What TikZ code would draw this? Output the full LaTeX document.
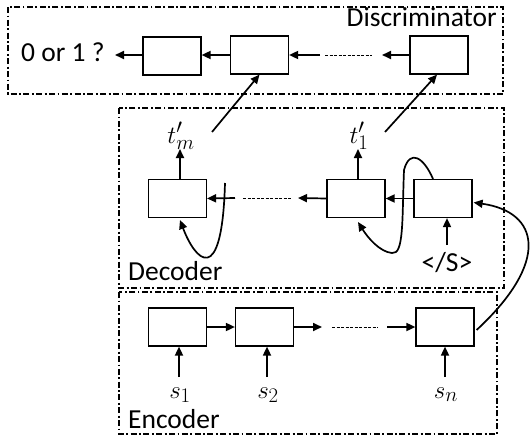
\documentclass[tikz,border=0pt]{standalone}
\usepackage{fontspec}
\setmainfont{Carlito}
\usetikzlibrary{arrows.meta,calc}
\begin{document}
\begin{tikzpicture}[x=1pt,y=-1pt,
  box/.style={draw,line width=1.2pt,minimum width=58pt,minimum height=38pt,inner sep=0pt},
  cont/.style={draw,line width=1.8pt,dash pattern=on 6pt off 2.5pt on 1.8pt off 2.5pt},
  arr/.style={line width=1.7pt,-{Triangle[length=9pt,width=8pt]}},
  dots/.style={line width=1pt,dash pattern=on 3pt off 1.5pt},
  lbl/.style={inner sep=0pt,font=\fontsize{27.5}{30}\selectfont},
  mlbl/.style={inner sep=0pt,font=\fontsize{30}{32}\selectfont}]
\useasboundingbox (0,0) rectangle (530,439);
% containers
\draw[cont] (8,7) rectangle (503,94);
\draw[cont] (119,108) rectangle (504,288);
\draw[cont] (119,292) rectangle (497,434);
\node[lbl,anchor=base east] (disc) at (497,27) {Discriminator};
\node[lbl,anchor=base west] (dec) at (128,280) {Decoder};
\node[lbl,anchor=base west] (enc) at (128,428) {Encoder};
% discriminator
\node[box] (b1) at (172,56) {};
\node[box] (b2) at (259.5,55) {};
\node[box] (b3) at (439,55) {};
\node[lbl,anchor=base west] (out) at (21,61) {0 or 1 ?};
\coordinate (otip) at (115,55);
\draw[arr] (b1.west |- otip) -- (otip);
\draw[arr] (b2.west) -- (b1.east |- b2.west);
\coordinate (b3tip) at (382,55);
\coordinate (dA) at (325,55);
\coordinate (dB) at (372,55);
\coordinate (b2src) at (320,55);
\draw[arr] (b3.west) -- (b3tip);
\draw[dots] (dA) -- (dB);
\draw[arr] (b2src) -- (b2.east);
% decoder
\node[box] (dm) at (177.5,198.5) {};
\node[box] (d1) at (356,198.5) {};
\node[box] (d0) at (443,198.5) {};
\node[mlbl,anchor=base] (tm) at (181,143) {$t'_m$};
\node[mlbl,anchor=base] (t1) at (359,143) {$t'_1$};
\coordinate (tmtip) at (180,149);
\coordinate (t1tip) at (358,149);
\draw[arr] (dm.north -| tmtip) -- (tmtip);
\draw[arr] (d1.north -| t1tip) -- (t1tip);
\coordinate (tmo) at (212,132);
\coordinate (t1o) at (385,132);
\draw[arr] (tmo) -- (b2.south);
\draw[arr] (t1o) -- (b3.south -| 437,0);
\draw[arr] (d0.west) -- (d1.east);
\coordinate (d1tip) at (298,198);
\coordinate (dC) at (243,198);
\coordinate (dD) at (292,198);
\coordinate (dmsrc) at (235,198);
\draw[arr] (d1.west) -- (d1tip);
\draw[dots] (dC) -- (dD);
\draw[arr] (dmsrc) -- (dm.east);
% self loops
\coordinate (lmS) at (225,183);
\draw[arr] (lmS) .. controls (222,290) and (195,260) .. (180,220);
\draw[arr] ($(d0.north)+(-10,0)$) .. controls (424,158) and (410,148) .. (404,170)
  .. controls (402,220) and (404,255) .. (392,253)
  .. controls (380,252) and (368,238) .. (358,222);
\node[lbl,anchor=base] (eos) at (447,271) {</S>};
\coordinate (eosT) at (447,245);
\draw[arr] (eosT) -- (d0.south -| eosT);
% encoder
\node[box] (e1) at (177.5,327) {};
\node[box] (e2) at (264.5,327) {};
\node[box] (en) at (445,327) {};
\draw[arr] (e1.east) -- (e2.west);
\coordinate (e2tip) at (322,327);
\coordinate (dE) at (332,327);
\coordinate (dF) at (378,327);
\coordinate (ensrc) at (387,327);
\draw[arr] (e2.east) -- (e2tip);
\draw[dots] (dE) -- (dF);
\draw[arr] (ensrc) -- (en.west);
\node[mlbl,anchor=base] (s1) at (180,398) {$s_1$};
\node[mlbl,anchor=base] (s2) at (268,398) {$s_2$};
\node[mlbl,anchor=base] (sn) at (446,398) {$s_n$};
\coordinate (s1T) at (179,377);
\coordinate (s2T) at (267,377);
\coordinate (snT) at (445,377);
\draw[arr] (s1T) -- (e1.south -| s1T);
\draw[arr] (s2T) -- (e2.south -| s2T);
\draw[arr] (snT) -- (en.south -| snT);
% encoder to decoder
\draw[arr] ($(en.east)+(2,3)$) .. controls (550,262) and (540,212) .. ($(d0.east)+(1,4)$);
\end{tikzpicture}
\end{document}
